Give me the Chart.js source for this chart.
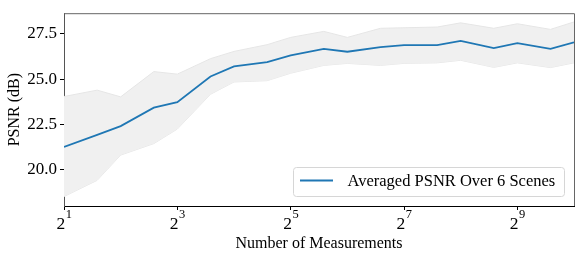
<!DOCTYPE html>
<html>
<head>
<meta charset="utf-8">
<script src="https://cdn.jsdelivr.net/npm/chart.js@4"></script>
<style>
  html, body { margin:0; padding:0; background:#fff; }
  #wrap { width:581px; height:261px; position:relative; }
</style>
</head>
<body>
<div id="wrap"><canvas id="chart" width="581" height="261"></canvas></div>
<script>
// ---- data ----
var measurements = [2,3,4,6,8,12,16,24,32,48,64,96,128,192,256,384,512,768,1024];
var psnrMean  = [21.27,21.93,22.41,23.43,23.73,25.14,25.70,25.93,26.30,26.66,26.50,26.75,26.86,26.87,27.10,26.70,26.97,26.66,27.02];
var psnrUpper = [24.04,24.39,24.02,25.41,25.27,26.12,26.52,26.89,27.29,27.62,27.29,27.79,27.82,27.86,28.09,27.79,28.04,27.73,28.14];
var psnrLower = [18.54,19.43,20.82,21.45,22.25,24.16,24.84,24.91,25.32,25.75,25.86,25.75,25.86,25.89,26.03,25.64,25.89,25.63,25.89];
var xTicks = [2,8,32,128,512];
var yTicks = [20.0,22.5,25.0,27.5];
var legendLabel = 'Averaged PSNR Over 6 Scenes';

var SERIF = "'Liberation Serif','DejaVu Serif',serif";

function pts(arr) {
  return measurements.map(function(m, i) { return { x:m, y:arr[i] }; });
}

// frame (top/right spines), x tick labels as 2^n, legend inside the axes
var framePlugin = {
  id: 'frame',
  afterDraw: function(chart) {
    var ctx = chart.ctx, a = chart.chartArea, sx = chart.scales.x;
    ctx.save();
    ctx.strokeStyle = '#666';
    ctx.lineWidth = 1;
    ctx.beginPath();
    ctx.moveTo(a.left, a.top + 0.5); ctx.lineTo(a.right + 0.5, a.top + 0.5);
    ctx.lineTo(a.right + 0.5, a.bottom);
    ctx.stroke();

    // x tick labels: base 2 with superscript exponent
    ctx.fillStyle = '#000';
    ctx.textBaseline = 'alphabetic';
    xTicks.forEach(function(v) {
      var px = sx.getPixelForValue(v);
      var e = String(Math.round(Math.log2(v)));
      ctx.font = '17.5px ' + SERIF;
      var w2 = ctx.measureText('2').width;
      ctx.font = '12.5px ' + SERIF;
      var we = ctx.measureText(e).width;
      var x0 = px - (w2 + we) / 2;
      ctx.font = '17.5px ' + SERIF;
      ctx.fillText('2', x0, 229);
      ctx.font = '12.5px ' + SERIF;
      ctx.fillText(e, x0 + w2 + 0.5, 218);
    });

    // legend
    var bx = 293.5, by = 167.5, bw = 271, bh = 29, r = 3;
    ctx.fillStyle = 'rgba(255,255,255,0.85)';
    ctx.strokeStyle = '#d6d6d6';
    ctx.beginPath();
    ctx.moveTo(bx + r, by);
    ctx.arcTo(bx + bw, by, bx + bw, by + bh, r);
    ctx.arcTo(bx + bw, by + bh, bx, by + bh, r);
    ctx.arcTo(bx, by + bh, bx, by, r);
    ctx.arcTo(bx, by, bx + bw, by, r);
    ctx.closePath();
    ctx.fill(); ctx.stroke();
    ctx.strokeStyle = '#1f77b4';
    ctx.lineWidth = 1.8;
    ctx.beginPath();
    ctx.moveTo(300, 180.5); ctx.lineTo(333, 180.5);
    ctx.stroke();
    ctx.fillStyle = '#000';
    ctx.font = '16.5px ' + SERIF;
    ctx.textBaseline = 'middle';
    ctx.fillText(legendLabel, 347.5, 181.5);
    ctx.restore();
  }
};

new Chart(document.getElementById('chart'), {
  type: 'line',
  data: {
    datasets: [
      { label:legendLabel, data:pts(psnrMean), borderColor:'#1f77b4', borderWidth:1.8, pointRadius:0, fill:false, order:0 },
      { label:'upper', data:pts(psnrUpper), borderColor:'#e6e6e6', borderWidth:1, pointRadius:0, fill:2, backgroundColor:'#f0f0f0', order:1 },
      { label:'lower', data:pts(psnrLower), borderColor:'#e6e6e6', borderWidth:1, pointRadius:0, fill:false, order:1 }
    ]
  },
  options: {
    responsive:false, animation:false,
    layout:{ padding:{ top:8, right:7, bottom:0, left:0 } },
    plugins:{ legend:{ display:false }, tooltip:{ enabled:false } },
    scales:{
      x:{
        type:'logarithmic', min:2, max:1024,
        afterBuildTicks:function(s) { s.ticks = xTicks.map(function(v){ return { value:v }; }); },
        afterFit:function(s) { s.height = 55; },
        border:{ color:'#000', width:1 },
        grid:{ drawOnChartArea:false, drawTicks:true, tickLength:4, tickColor:'#000' },
        ticks:{ display:false },
        title:{ display:true, text:'Number of Measurements', color:'#000', font:{ family:SERIF, size:16 }, padding:{ top:2, bottom:8 } }
      },
      y:{
        min:18.02, max:28.62,
        afterBuildTicks:function(s) { s.ticks = yTicks.map(function(v){ return { value:v }; }); },
        afterFit:function(s) { s.width = 64; },
        border:{ color:'#555', width:1 },
        grid:{ drawOnChartArea:false, drawTicks:true, tickLength:4, tickColor:'#000' },
        ticks:{ color:'#000', font:{ family:SERIF, size:17 }, padding:3, callback:function(v){ return v.toFixed(1); } },
        title:{ display:true, text:'PSNR (dB)', color:'#000', font:{ family:SERIF, size:16 }, padding:{ top:5, bottom:0 } }
      }
    }
  },
  plugins:[framePlugin]
});
</script>
</body>
</html>
